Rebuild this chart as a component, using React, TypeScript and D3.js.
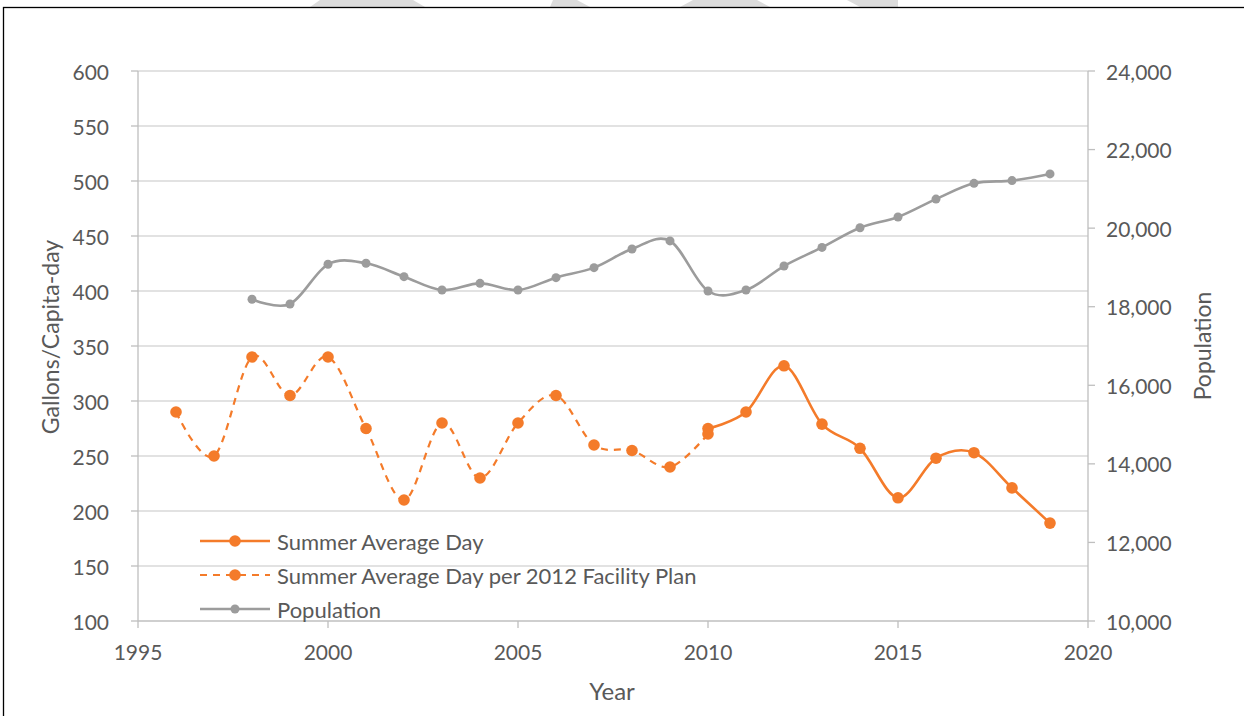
import React from "react";
import * as d3 from "d3";

// ---- Data ----
const solidYears = [2010, 2011, 2012, 2013, 2014, 2015, 2016, 2017, 2018, 2019];
const solidValues = [275, 290, 332, 279, 257, 212, 248, 253, 221, 189];

const planYears = [1996, 1997, 1998, 1999, 2000, 2001, 2002, 2003, 2004, 2005, 2006, 2007, 2008, 2009, 2010];
const planValues = [290, 250, 340, 305, 340, 275, 210, 280, 230, 280, 305, 260, 255, 240, 270];

const popYears = [1998, 1999, 2000, 2001, 2002, 2003, 2004, 2005, 2006, 2007, 2008, 2009, 2010, 2011, 2012, 2013, 2014, 2015, 2016, 2017, 2018, 2019];
const popValues = [18190, 18070, 19080, 19105, 18765, 18425, 18595, 18425, 18740, 18995, 19470, 19675, 18400, 18425, 19035, 19510, 20010, 20285, 20740, 21140, 21210, 21380];

const xTicks = [1995, 2000, 2005, 2010, 2015, 2020];
const leftTicks = [100, 150, 200, 250, 300, 350, 400, 450, 500, 550, 600];
const rightTicks = [10000, 12000, 14000, 16000, 18000, 20000, 22000, 24000];

const legendLabels = ["Summer Average Day", "Summer Average Day per 2012 Facility Plan", "Population"];

// ---- Layout ----
const W = 1244, H = 716;
const L = 138, R = 1088, T = 71, B = 621;
const ORANGE = "#F47B2A";
const GRAY = "#9C9C9C";
const TEXT = "#595959";
const FONT = "Lato, 'Open Sans', sans-serif";

export default function App() {
  const x = d3.scaleLinear().domain([1995, 2020]).range([L, R]);
  const yL = d3.scaleLinear().domain([100, 600]).range([B, T]);
  const yR = d3.scaleLinear().domain([10000, 24000]).range([B, T]);
  const curve = d3.curveCardinal.tension(0);

  const solidPts: [number, number][] = solidYears.map((yr, i) => [x(yr), yL(solidValues[i])]);
  const planPts: [number, number][] = planYears.map((yr, i) => [x(yr), yL(planValues[i])]);
  const popPts: [number, number][] = popYears.map((yr, i) => [x(yr), yR(popValues[i])]);
  const line = d3.line().curve(curve);

  const fmt = d3.format(",");

  const legendY = [541, 575, 609];
  const lx0 = 200, lx1 = 270, ltx = 277;

  return (
    <svg width={W} height={H} style={{ position: "absolute", left: 0, top: 0, background: "#fff" }}
      fontFamily={FONT}>
      {/* watermark fragments */}
      <g fill="#DCDCDC">
        <polygon points="320,0 413,0 425,7 310,7" />
        <polygon points="553,0 577,0 590,7 550,7" />
        <polygon points="693,0 757,0 770,7 680,7" />
        <polygon points="847,0 898,0 898,7 860,7" />
      </g>
      {/* frame */}
      <rect x={3.5} y={7.5} width={1260} height={730} fill="none" stroke="#000" strokeWidth={1.3} />

      {/* gridlines */}
      <g stroke="#D9D9D9" strokeWidth={1.3}>
        {leftTicks.filter(t => t !== 100).map(t => (
          <line key={t} x1={L} x2={R} y1={yL(t)} y2={yL(t)} />
        ))}
      </g>
      {/* axes */}
      <g stroke="#BFBFBF" strokeWidth={1.3}>
        <line x1={L} x2={L} y1={T} y2={B} />
        <line x1={R} x2={R} y1={T} y2={B} />
        <line x1={L} x2={R} y1={B} y2={B} />
        {leftTicks.map(t => <line key={"l" + t} x1={L - 7} x2={L} y1={yL(t)} y2={yL(t)} />)}
        {rightTicks.map(t => <line key={"r" + t} x1={R} x2={R + 7} y1={yR(t)} y2={yR(t)} />)}
        {xTicks.map(t => <line key={"x" + t} x1={x(t)} x2={x(t)} y1={B} y2={B + 7} />)}
      </g>

      {/* tick labels */}
      <g fill={TEXT} fontSize={21}>
        {leftTicks.map(t => (
          <text key={t} x={109} y={yL(t)} textAnchor="end" dominantBaseline="central">{t}</text>
        ))}
        {rightTicks.map(t => (
          <text key={t} x={1106} y={yR(t)} textAnchor="start" dominantBaseline="central">{fmt(t)}</text>
        ))}
        {xTicks.map(t => (
          <text key={t} x={x(t)} y={651} textAnchor="middle" dominantBaseline="central">{t}</text>
        ))}
      </g>

      {/* axis titles */}
      <g fill={TEXT} fontSize={23}>
        <text x={50} y={337} textAnchor="middle" dominantBaseline="central" transform="rotate(-90 50 337)">Gallons/Capita-day</text>
        <text x={1202} y={346} textAnchor="middle" dominantBaseline="central" transform="rotate(-90 1202 346)">Population</text>
        <text x={612} y={690} textAnchor="middle" dominantBaseline="central" fontSize={24}>Year</text>
      </g>

      {/* series: Summer Average Day */}
      <path d={line(solidPts) || ""} fill="none" stroke={ORANGE} strokeWidth={2.6} />
      {solidPts.map((p, i) => <circle key={"s" + i} cx={p[0]} cy={p[1]} r={5.8} fill={ORANGE} />)}

      {/* series: per 2012 Facility Plan */}
      <path d={line(planPts) || ""} fill="none" stroke={ORANGE} strokeWidth={2.2} strokeDasharray="7,6" />
      {planPts.map((p, i) => <circle key={"p" + i} cx={p[0]} cy={p[1]} r={5.8} fill={ORANGE} />)}

      {/* series: Population */}
      <path d={line(popPts) || ""} fill="none" stroke={GRAY} strokeWidth={2.6} />
      {popPts.map((p, i) => <circle key={"g" + i} cx={p[0]} cy={p[1]} r={4.5} fill={GRAY} />)}

      {/* legend */}
      <g>
        <line x1={lx0} x2={lx1} y1={legendY[0]} y2={legendY[0]} stroke={ORANGE} strokeWidth={2.6} />
        <circle cx={(lx0 + lx1) / 2} cy={legendY[0]} r={5.8} fill={ORANGE} />
        <line x1={lx0} x2={lx1} y1={legendY[1]} y2={legendY[1]} stroke={ORANGE} strokeWidth={2.2} strokeDasharray="7,6" />
        <circle cx={(lx0 + lx1) / 2} cy={legendY[1]} r={5.8} fill={ORANGE} />
        <line x1={lx0} x2={lx1} y1={legendY[2]} y2={legendY[2]} stroke={GRAY} strokeWidth={2.6} />
        <circle cx={(lx0 + lx1) / 2} cy={legendY[2]} r={4.5} fill={GRAY} />
        {legendLabels.map((s, i) => (
          <text key={s} x={ltx} y={legendY[i]} fill={TEXT} fontSize={22} dominantBaseline="central">{s}</text>
        ))}
      </g>
    </svg>
  );
}
